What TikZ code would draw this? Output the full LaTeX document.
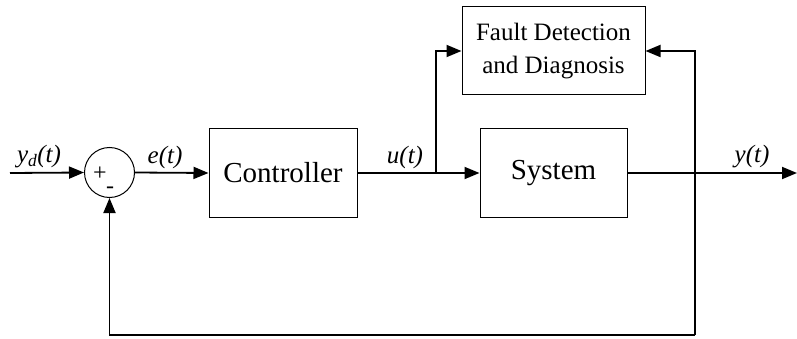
\documentclass[tikz,border=0pt]{standalone}
\usepackage{fontspec}
\setmainfont{Liberation Serif}
\usetikzlibrary{arrows.meta}
\begin{document}
\begin{tikzpicture}[x=1pt,y=-1pt,
  box/.style={draw, line width=1pt, inner sep=0pt},
  sig/.style={line width=1.8pt, -{Triangle[length=15pt,width=12pt]}},
  lbl/.style={inner sep=0pt, font=\fontsize{25}{30}\selectfont\itshape},
  sgn/.style={inner sep=0pt, font=\fontsize{24}{26}\selectfont}]
\useasboundingbox (0,0) rectangle (797,339);

% blocks
\node[box, minimum width=148pt, minimum height=88pt, font=\fontsize{29}{34}\selectfont]
  (ctrl) at (283,173) {Controller};
\node[box, minimum width=147pt, minimum height=88pt, font=\fontsize{29}{34}\selectfont]
  (sys) at (553.5,173) {System};
\node[box, minimum width=183pt, minimum height=88pt, align=center,
  font=\fontsize{25}{33}\selectfont] (fdd) at (553.5,51) {Fault Detection\\and Diagnosis};
\node[circle, draw, line width=1pt, minimum size=50pt, inner sep=0pt] (sum) at (109.5,172.5) {};
\node[sgn] (plus) at (100,174) {+};
\node[sgn] (minus) at (110,190) {-};

% junctions and free ends
\coordinate (in) at (10,173);
\coordinate (out) at (797,173);
\coordinate (bu) at (436,173);
\coordinate (bot) at (695,335);

% signal lines
\draw[sig] (in) -- (sum.west);
\draw[sig] (sum.east) -- (ctrl.west);
\draw[sig] (ctrl.east) -- (sys.west);
\draw[sig] (bu) |- (fdd.west);
\draw[sig] (sys.east) -- (out);
\draw[sig] (bot) |- (fdd.east);
\draw[sig] (bot) -| (sum.south);

% signal labels
\node[lbl] (lyd) at (39,157) {y\textsubscript{d}(t)};
\node[lbl] (le) at (165,157) {e(t)};
\node[lbl] (lu) at (405,157) {u(t)};
\node[lbl] (ly) at (752,157) {y(t)};
\end{tikzpicture}
\end{document}
